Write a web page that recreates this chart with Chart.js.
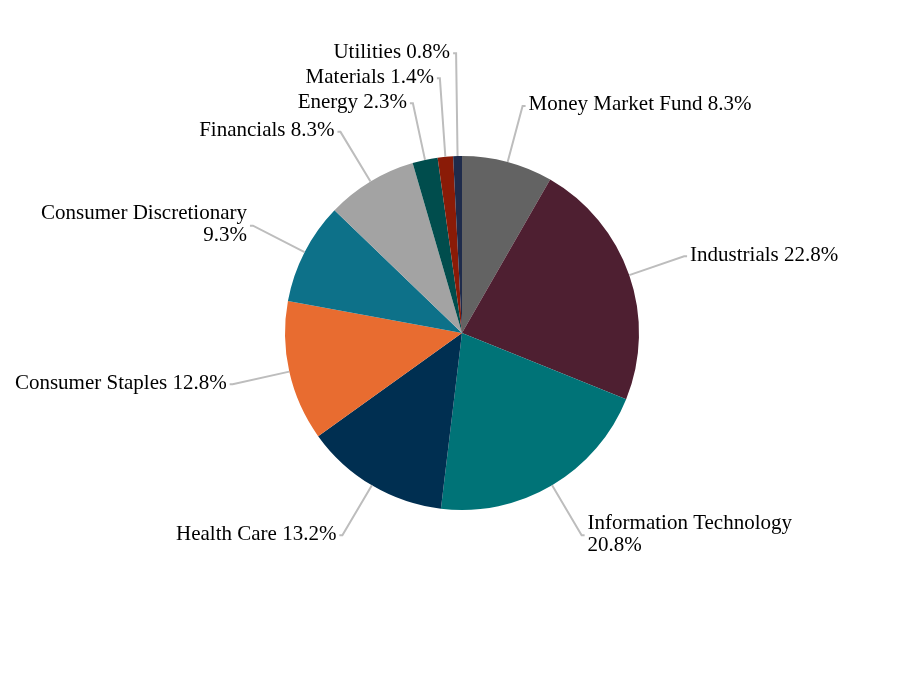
<!DOCTYPE html>
<html>
<head>
<meta charset="utf-8">
<script src="https://cdn.jsdelivr.net/npm/chart.js@4/dist/chart.umd.min.js"></script>
<style>
  html, body { margin: 0; padding: 0; background: #ffffff; }
  #wrap { width: 924px; height: 696px; position: relative; }
</style>
</head>
<body>
<div id="wrap"><canvas id="c" width="924" height="696"></canvas></div>
<script>
const categories = [
  "Money Market Fund", "Industrials", "Information Technology", "Health Care",
  "Consumer Staples", "Consumer Discretionary", "Financials", "Energy",
  "Materials", "Utilities"
];
const weights = [8.3, 22.8, 20.8, 13.2, 12.8, 9.3, 8.3, 2.3, 1.4, 0.8];
const sliceColors = [
  "#636363", "#4E1F31", "#007377", "#002F51", "#E86C30",
  "#0D7189", "#A3A3A3", "#004D4D", "#8A1B07", "#1F2B4B"
];

const FONT = '21px "Liberation Serif", "Times New Roman", serif';
const LINE_H = 22;
const LABEL_DIST = 58;
const MIN_GAP = 25;
const MAX_W = 240;

function wrapText(ctx, text) {
  if (ctx.measureText(text).width <= MAX_W) return [text];
  const words = text.split(' ');
  const lines = [];
  let cur = '';
  for (const w of words) {
    const t = cur ? cur + ' ' + w : w;
    if (ctx.measureText(t).width > MAX_W && cur) { lines.push(cur); cur = w; }
    else cur = t;
  }
  if (cur) lines.push(cur);
  return lines;
}

const labelPlugin = {
  id: 'pieLabels',
  afterDatasetsDraw(chart) {
    const ctx = chart.ctx;
    const meta = chart.getDatasetMeta(0);
    ctx.save();
    ctx.font = FONT;
    const items = meta.data.map((arc, i) => {
      const a = (arc.startAngle + arc.endAngle) / 2;
      const R = arc.outerRadius;
      const cx = arc.x, cy = arc.y;
      const sx = cx + R * Math.cos(a), sy = cy + R * Math.sin(a);
      const ex = cx + (R + LABEL_DIST) * Math.cos(a);
      const ey = cy + (R + LABEL_DIST) * Math.sin(a);
      const right = Math.cos(a) >= 0;
      const text = categories[i] + ' ' + weights[i].toFixed(1) + '%';
      return { i, sx, sy, ex, ey, right, lines: wrapText(ctx, text) };
    });
    [true, false].forEach(side => {
      const list = items.filter(o => o.right === side).sort((p, q) => q.ey - p.ey);
      for (let k = 1; k < list.length; k++) {
        const lim = list[k - 1].ey - MIN_GAP;
        if (list[k].ey > lim) list[k].ey = lim;
      }
    });
    items.forEach(o => {
      const dir = o.right ? 1 : -1;
      ctx.strokeStyle = '#BDBDBD';
      ctx.lineWidth = 2;
      ctx.beginPath();
      ctx.moveTo(o.sx, o.sy);
      ctx.lineTo(o.ex, o.ey);
      ctx.lineTo(o.ex + dir * 3, o.ey);
      ctx.stroke();
      ctx.fillStyle = '#000000';
      ctx.textAlign = o.right ? 'left' : 'right';
      ctx.textBaseline = 'middle';
      const n = o.lines.length;
      const tx = o.ex + dir * 6;
      o.lines.forEach((ln, j) => {
        const ty = o.ey - 1 + (j - (n - 1) / 2) * LINE_H;
        ctx.fillText(ln, tx, ty);
      });
    });
    ctx.restore();
  }
};

new Chart(document.getElementById('c'), {
  type: 'pie',
  data: {
    labels: categories,
    datasets: [{
      data: weights,
      backgroundColor: sliceColors,
      borderWidth: 0
    }]
  },
  options: {
    responsive: false,
    animation: false,
    layout: { padding: { top: 156, bottom: 186, left: 200, right: 200 } },
    plugins: {
      legend: { display: false },
      tooltip: { enabled: false }
    }
  },
  plugins: [labelPlugin]
});
</script>
</body>
</html>
